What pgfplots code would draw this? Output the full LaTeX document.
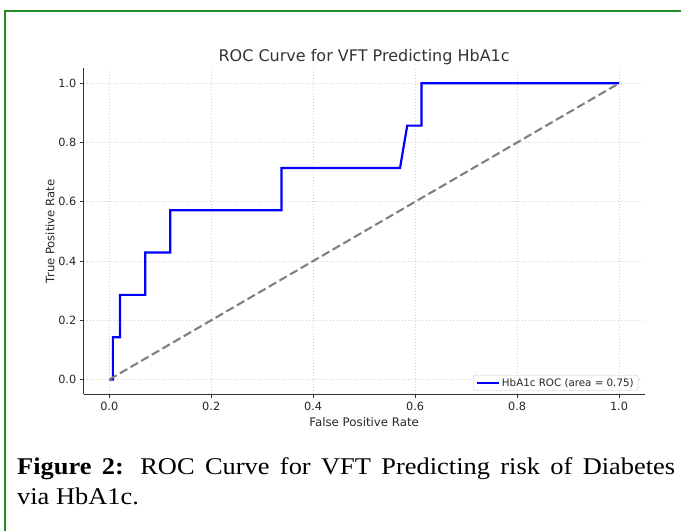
\documentclass[border=0pt]{standalone}
\usepackage{fontspec}
\setmainfont{DejaVu Sans}
\newfontfamily\capfont[FakeStretch=1.1]{Liberation Serif}
\usepackage{pgfplots}
\pgfplotsset{compat=1.18}
\definecolor{frameg}{RGB}{34,139,34}
\definecolor{roc}{RGB}{0,0,255}
\begin{document}
\begin{tikzpicture}
\useasboundingbox (0,0) rectangle (681bp,531bp);
\draw[frameg, line width=2.2bp] (4.7bp,-5bp) -- (4.7bp,520bp) -- (690bp,520bp);
\begin{axis}[
  at={(83.8bp,136.7bp)}, anchor=south west,
  scale only axis, width=560.7bp, height=325.8bp,
  xmin=-0.05, xmax=1.05, ymin=-0.05, ymax=1.05,
  axis lines*=left,
  axis line style={black!80, line width=0.9bp},
  tick style={black!80, line width=0.9bp},
  tick align=outside, major tick length=4bp,
  xtick={0,0.2,0.4,0.6,0.8,1.0},
  ytick={0,0.2,0.4,0.6,0.8,1.0},
  /pgf/number format/assume math mode=true,
  /pgf/number format/.cd, fixed, fixed zerofill, precision=1, /pgfplots/.cd,
  ticklabel style={font=\fontsize{11.3bp}{13bp}\selectfont, text=black!85},
  grid=major,
  grid style={dash pattern=on 1.5bp off 1.5bp, color=black!18, line width=0.7bp},
  title={ROC Curve for VFT Predicting HbA1c},
  title style={at={(axis description cs:0.5,1.0046)}, anchor=base, font=\fontsize{16bp}{19bp}\selectfont, text=black!80},
  xlabel={False Positive Rate},
  xlabel style={at={(axis description cs:0.5,-0.098)}, anchor=base, font=\fontsize{11.8bp}{14bp}\selectfont, text=black!85},
  ylabel={True Positive Rate},
  ylabel style={at={(axis description cs:-0.0526,0.5)}, anchor=base, rotate=0, font=\fontsize{11.6bp}{14bp}\selectfont, text=black!85},
  legend style={at={(axis description cs:0.989,0.011)}, anchor=south east, draw=black!20, rounded corners=2bp, fill=white,
    font=\fontsize{10.3bp}{12bp}\selectfont, text=black!85, inner xsep=3bp, inner ysep=1.5bp, nodes={inner sep=1.5bp}},
  legend cell align=left,
  legend image code/.code={\draw[#1] (0bp,0bp) -- (22bp,0bp);},
]
\addplot[roc, line width=2.2bp, line join=miter] coordinates {
  (0,0) (0.00704,0) (0.00704,0.1429) (0.02113,0.1429) (0.02113,0.2857)
  (0.07042,0.2857) (0.07042,0.4286) (0.11972,0.4286) (0.11972,0.5714)
  (0.33803,0.5714) (0.33803,0.7143) (0.57042,0.7143) (0.58451,0.8571)
  (0.61268,0.8571) (0.61268,1) (1,1)
};
\addlegendentry{HbA1c ROC (area = 0.75)}
\addplot[color={rgb,255:red,128;green,128;blue,128}, line width=2.1bp, dash pattern=on 8.5bp off 3.8bp, forget plot] coordinates {(0,0) (1,1)};
\end{axis}
\node[anchor=base west, inner sep=0pt, font=\capfont\fontsize{24bp}{28bp}\selectfont] at (17bp,56bp)
  {\makebox[658bp][s]{\textbf{Figure 2:} ROC Curve for VFT Predicting risk of Diabetes}};
\node[anchor=base west, inner sep=0pt, font=\capfont\fontsize{24bp}{28bp}\selectfont] at (17bp,27bp)
  {via HbA1c.};
\end{tikzpicture}
\end{document}
